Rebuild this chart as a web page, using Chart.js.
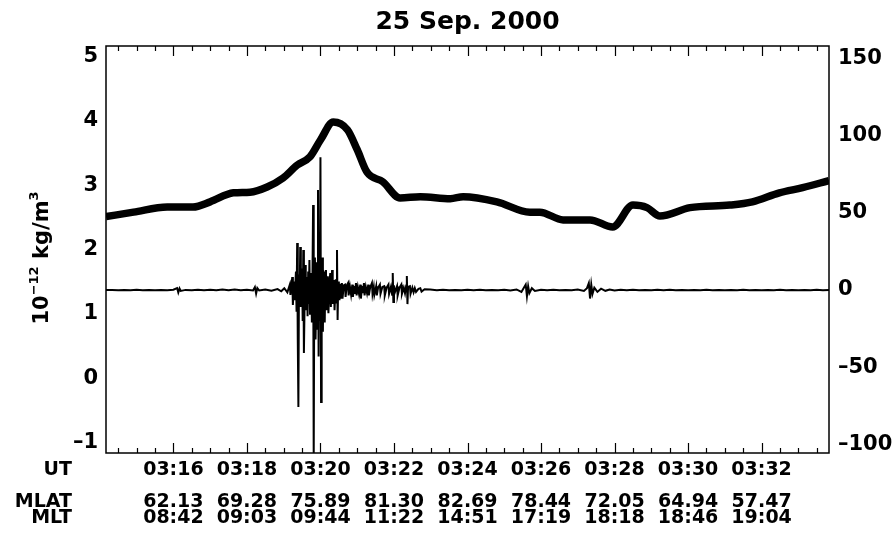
<!DOCTYPE html>
<html>
<head>
<meta charset="utf-8">
<script src="https://cdn.jsdelivr.net/npm/chart.js@4"></script>
<style>
  body { margin: 0; background: #fff; }
  #wrap { width: 895px; height: 537px; }
</style>
</head>
<body>
<div id="wrap"><canvas id="myChart" width="895" height="537"></canvas></div>
<script>
// time axis in seconds after 03:00:00 UT
const timeMin = 850;
const timeMax = 2030;
const tickTimes = [960, 1080, 1200, 1320, 1440, 1560, 1680, 1800, 1920];
const utLabels = ['03:16', '03:18', '03:20', '03:22', '03:24', '03:26', '03:28', '03:30', '03:32'];
const mlatLabels = ['62.13', '69.28', '75.89', '81.30', '82.69', '78.44', '72.05', '64.94', '57.47'];
const mltLabels = ['08:42', '09:03', '09:44', '11:22', '14:51', '17:19', '18:18', '18:46', '19:04'];

// left axis: density, 10^-12 kg/m^3
const densTicks = [-1, 0, 1, 2, 3, 4, 5];
const densTime = [850, 895, 950, 992, 1020, 1058, 1085, 1113, 1139, 1162, 1183, 1200, 1221, 1244, 1260, 1276,
  1302, 1330, 1363, 1412, 1433, 1488, 1542, 1558, 1596, 1640, 1677, 1710, 1733, 1754, 1803, 1868, 1905, 1949, 1987, 2030];
const density = [2.51, 2.58, 2.66, 2.66, 2.74, 2.88, 2.89, 2.97, 3.11, 3.31, 3.44, 3.70, 3.98, 3.86, 3.55, 3.20,
  3.05, 2.80, 2.82, 2.79, 2.82, 2.74, 2.58, 2.58, 2.46, 2.46, 2.35, 2.69, 2.65, 2.52, 2.65, 2.69, 2.74, 2.88, 2.96, 3.07];

// right axis: magnetic field perturbation, nT
const magTicks = [-100, -50, 0, 50, 100, 150];
const magTime = [
  850, 860, 870, 880, 890, 900, 910, 920, 930, 940, 950, 960, 966, 968, 970, 972, 980, 990, 1000, 1010,
  1020, 1030, 1040, 1050, 1060, 1070, 1080, 1090, 1093, 1095, 1097, 1100, 1110, 1120, 1130, 1136, 1141, 1146,
  1150, 1151, 1154, 1155, 1157, 1158, 1160, 1161, 1162, 1163, 1164, 1165, 1166, 1167, 1168, 1170, 1171, 1172,
  1173, 1175, 1176, 1178, 1179, 1180, 1181, 1182, 1183, 1185, 1186, 1187, 1188, 1189, 1190, 1191, 1192, 1194,
  1195, 1196, 1197, 1198, 1199, 1200, 1201, 1202, 1203, 1204, 1205, 1206, 1207, 1208, 1209, 1210, 1211, 1212,
  1213, 1215, 1216, 1217, 1218, 1219, 1220, 1222, 1223, 1225, 1226, 1227, 1228, 1229, 1230, 1231, 1233, 1234,
  1235, 1236, 1238, 1240, 1241, 1243, 1245, 1246, 1248, 1250, 1252, 1253, 1255, 1256, 1258, 1259, 1261, 1263,
  1265, 1266, 1268, 1269, 1271, 1272, 1274, 1276, 1278, 1279, 1281, 1284, 1285, 1287, 1288, 1291, 1292, 1294,
  1297, 1298, 1301, 1304, 1305, 1308, 1311, 1312, 1315, 1317, 1318, 1319, 1320, 1321, 1325, 1326, 1329, 1332,
  1333, 1336, 1338, 1340, 1341, 1342, 1343, 1346, 1347, 1350, 1352, 1354, 1356, 1360, 1363, 1365, 1370, 1379,
  1390, 1400, 1410, 1420, 1430, 1440, 1450, 1460, 1470, 1480, 1490, 1500, 1510, 1520, 1528, 1532, 1535, 1537,
  1539, 1541, 1545, 1550, 1560, 1570, 1580, 1590, 1600, 1610, 1620, 1630, 1635, 1638, 1640, 1642, 1644, 1647,
  1652, 1658, 1665, 1672, 1680, 1690, 1700, 1710, 1720, 1730, 1740, 1750, 1760, 1770, 1780, 1790, 1800, 1810,
  1820, 1830, 1840, 1850, 1860, 1870, 1880, 1890, 1900, 1910, 1920, 1930, 1940, 1950, 1960, 1970, 1980, 1990,
  2000, 2010, 2020, 2030
];
const magField = [
  0, 0.1, -0.2, 0.1, -0.1, 0.2, -0.1, 0.1, -0.2, 0.1, -0.1, 0.2, 1.3, -1.6, 1.0, -0.6, 0.1, -0.2, 0.2, -0.1,
  0.2, -0.2, 0.3, -0.2, 0.3, -0.2, 0.2, -0.3, 1.9, -2.3, 1.3, -0.3, 0.4, -0.5, 0.6, -0.8, 1.2, -1.5,
  3.5, -3.2, 8.4, -9.7, 5.5, -6.5, 12, -14, 30.4, -32.4, -75.7, 10, -8, 27.8, -11, 14, -20, 25.9,
  -40.8, 16.2, -13, 8.5, -17, 12, -9, 19.4, -16, 11, -21, 9, 55, -110, 14, 21, -32, 18,
  -25, 64.7, -43, 30, -20, 86, -72.5, 15, 21, -27, 12, 11, -21, 9, 13, -13, 7, 9,
  -15, 6, 11, -11, 5, 12.9, -9, 6.5, -13, 7, -8, 25.9, -19.4, 4, 5.5, -6.5, 4, -5,
  4.5, -5.5, 3, 3.5, -4.5, 3, 4.5, -3.5, 2.5, -3, 3.5, -4.5, 2.5, -2.5, 4.5, -3.5, 2, -2.5,
  3.5, -5.5, 2.5, -2, 4.5, -3.5, 2, -2, 3.5, -3.5, 1.5, 4.5, -2.5, 2, -3, 2.5, -3.5, 1.5,
  3.5, -2.5, 2, 2.5, -3.5, 1.5, 3.5, -2.5, 2, -3, 11, -7.8, 3, -2, 2.5, -3.5, 1.5, 3.5,
  -2.5, 1.5, -2, 3, 9.1, -9.1, 2, 2.5, -2.5, 1.5, -1.5, 1.2, -1.2, 0.8, 1.2, -1, 0.5, 0.3,
  -0.2, 0.2, -0.2, 0.1, -0.2, 0.2, -0.1, 0.2, -0.2, 0.1, -0.2, 0.2, -0.3, 0.4, -1.2, 1.5, 3.5, -4,
  2.5, -2, 1.2, -0.6, 0.2, -0.1, 0.2, -0.2, 0.1, -0.2, 0.3, -0.6, 1.2, 4.5, -5.5, 3.5, -2.5, 1.5,
  -1.2, 0.9, -0.5, 0.4, -0.3, 0.2, -0.1, 0.2, -0.2, 0.1, -0.2, 0.2, -0.1, 0.2, -0.1, 0.1, -0.2, 0.1,
  -0.1, 0.2, -0.1, 0.1, -0.2, 0.1, -0.1, 0.2, -0.1, 0.1, -0.2, 0.1, -0.1, 0.2, -0.1, 0.1, -0.2, 0.1,
  -0.1, 0.2, -0.1, 0
];

const FONT = 'DejaVu Sans';
const xTickFont = { family: FONT, weight: 'bold', size: 19, lineHeight: 0.84 };
const xTickPad = 9.5;

const fmtNum = v => (v < 0 ? '\u2013' + Math.abs(v) : String(v));

// frame, minor ticks, y title, row labels
const idlFrame = {
  id: 'idlFrame',
  afterDatasetsDraw(chart) {
    const { ctx, chartArea: { left, right, top, bottom } } = chart;
    const xs = chart.scales.x;
    ctx.save();
    ctx.strokeStyle = '#000';
    ctx.lineWidth = 1.5;
    ctx.strokeRect(left, top, right - left, bottom - top);

    ctx.lineWidth = 1.2;
    ctx.beginPath();
    for (let t = Math.ceil(timeMin / 30) * 30; t <= timeMax; t += 30) {
      const px = Math.round(xs.getPixelForValue(t)) + 0.5;
      const len = t % 120 === 0 ? 10 : 5;
      ctx.moveTo(px, bottom);
      ctx.lineTo(px, bottom - len);
      ctx.moveTo(px, top);
      ctx.lineTo(px, top + len);
    }
    ctx.stroke();

    // left axis title with superscripts
    ctx.fillStyle = '#000';
    ctx.translate(43, 258);
    ctx.rotate(-Math.PI / 2);
    ctx.textBaseline = 'middle';
    const big = 'bold 21px "' + FONT + '"';
    const small = 'bold 13px "' + FONT + '"';
    const parts = [['10', big, 0], ['\u221212', small, -8], [' kg/m', big, 0], ['3', small, -8]];
    let w = 0;
    parts.forEach(p => { ctx.font = p[1]; w += ctx.measureText(p[0]).width; });
    let x = -w / 2;
    ctx.textAlign = 'left';
    parts.forEach(p => {
      ctx.font = p[1];
      ctx.fillText(p[0], x, p[2]);
      x += ctx.measureText(p[0]).width;
    });
    ctx.restore();

    // row labels under the time axis
    ctx.save();
    const lh = xTickFont.size * xTickFont.lineHeight;
    const y0 = bottom + xTickPad + lh / 2;
    ctx.font = 'bold ' + xTickFont.size + 'px "' + FONT + '"';
    ctx.fillStyle = '#000';
    ctx.textAlign = 'right';
    ctx.textBaseline = 'middle';
    ctx.fillText('UT', 72, y0);
    ctx.fillText('MLAT', 72, y0 + 2 * lh);
    ctx.fillText('MLT', 72, y0 + 3 * lh);
    ctx.restore();
  }
};

const config = {
  type: 'line',
  data: {
    datasets: [{
      label: 'density',
      data: densTime.map((t, i) => ({ x: t, y: density[i] })),
      yAxisID: 'y',
      borderColor: '#000',
      borderWidth: 7.5,
      pointRadius: 0,
      cubicInterpolationMode: 'monotone',
      borderJoinStyle: 'round',
      clip: 0
    }, {
      label: 'field',
      data: magTime.map((t, i) => ({ x: t, y: magField[i] })),
      yAxisID: 'y1',
      borderColor: '#000',
      borderWidth: 2,
      pointRadius: 0,
      tension: 0,
      clip: 0
    }]
  },
  options: {
    responsive: false,
    animation: false,
    layout: { padding: 0 },
    plugins: {
      legend: { display: false },
      tooltip: { enabled: false },
      title: {
        display: true,
        text: '25 Sep. 2000',
        fullSize: false,
        color: '#000',
        font: { family: FONT, weight: 'bold', size: 25, lineHeight: 1.2 },
        padding: { top: 7, bottom: 9 }
      }
    },
    scales: {
      x: {
        type: 'linear',
        position: 'bottom',
        min: timeMin,
        max: timeMax,
        grid: { display: false, drawTicks: false },
        border: { display: false },
        afterBuildTicks: s => { s.ticks = tickTimes.map(v => ({ value: v })); },
        afterFit: s => { s.height = 84; },
        ticks: {
          autoSkip: false,
          maxRotation: 0,
          minRotation: 0,
          color: '#000',
          padding: xTickPad,
          font: xTickFont,
          callback: v => {
            const i = tickTimes.indexOf(v);
            return [utLabels[i], '', mlatLabels[i], mltLabels[i]];
          }
        }
      },
      y: {
        position: 'left',
        min: -1.16,
        max: 5.16,
        grid: { display: false, drawTicks: false },
        border: { display: false },
        afterBuildTicks: s => { s.ticks = densTicks.map(v => ({ value: v })); },
        afterFit: s => { s.width = 106; },
        ticks: {
          color: '#000',
          padding: 8,
          font: { family: FONT, weight: 'bold', size: 21 },
          callback: fmtNum
        }
      },
      y1: {
        position: 'right',
        min: -105.5,
        max: 158,
        grid: { display: false, drawTicks: false },
        border: { display: false },
        afterBuildTicks: s => { s.ticks = magTicks.map(v => ({ value: v })); },
        afterFit: s => { s.width = 66; },
        ticks: {
          color: '#000',
          padding: 9,
          font: { family: FONT, weight: 'bold', size: 21 },
          callback: fmtNum
        }
      }
    }
  },
  plugins: [idlFrame]
};

const myChart = new Chart(document.getElementById('myChart'), config);
</script>
</body>
</html>
